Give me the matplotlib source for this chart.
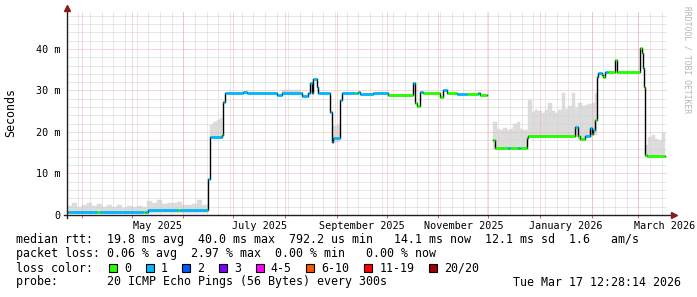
import numpy as np
import pandas as pd
import matplotlib
matplotlib.use('Agg')
import matplotlib.pyplot as plt
import matplotlib.dates as mdates
from matplotlib.patches import Rectangle

plt.rcParams['font.family'] = ['DejaVu Sans Mono']

nan = np.nan

# time window of the graph
t_start = '2025-03-23 05:00'
t_end = '2026-03-18 05:00'

# median rtt (ms) as step changes, loss = lost pings of 20, nan closes a run
med_dates = ['2025-03-23', '2025-03-24', '2025-04-10', '2025-04-12', '2025-05-08', '2025-05-09',
             '2025-05-11', '2025-05-29', '2025-05-30', '2025-06-15', '2025-06-16', '2025-06-17',
             '2025-06-24', '2025-06-25', '2025-06-26', '2025-07-07', '2025-07-09', '2025-07-27',
             '2025-07-30', '2025-08-11', '2025-08-15', '2025-08-16', '2025-08-17', '2025-08-18',
             '2025-08-20', '2025-08-21', '2025-08-28', '2025-08-29', '2025-08-30', '2025-09-03',
             '2025-09-04', '2025-09-12', '2025-09-13', '2025-09-14', '2025-09-15', '2025-09-23',
             '2025-09-29', '2025-10-02', '2025-10-17', '2025-10-18', '2025-10-19', '2025-10-21',
             '2025-10-23', '2025-11-02', '2025-11-04', '2025-11-06', '2025-11-12', '2025-11-18',
             '2025-11-25', '2025-11-26', '2025-11-30',
             '2025-12-04', '2025-12-05', '2025-12-13', '2025-12-14', '2025-12-19', '2025-12-20',
             '2025-12-24', '2025-12-25', '2026-01-22', '2026-01-24', '2026-01-25', '2026-01-28',
             '2026-01-31', '2026-02-01', '2026-02-02', '2026-02-03', '2026-02-04', '2026-02-05',
             '2026-02-07', '2026-02-08', '2026-02-09', '2026-02-11', '2026-02-15', '2026-02-16',
             '2026-03-02', '2026-03-03', '2026-03-04', '2026-03-04 16:00', '2026-03-05', '2026-03-06',
             '2026-03-17']
med_ms = [0.8, 0.8, 0.8, 0.8, 0.8, 0.8,
          1.1, 1.1, 1.1, 1.1, 8.7, 18.8,
          19.3, 27.3, 29.3, 29.6, 29.3, 29.0,
          29.3, 28.7, 29.3, 31.9, 29.5, 32.7,
          30.9, 29.3, 24.9, 17.7, 18.5, 27.7,
          29.3, 29.3, 29.3, 29.6, 29.2, 29.5,
          29.3, 29.0, 31.7, 26.9, 26.3, 29.6,
          29.3, 28.4, 30.2, 29.3, 29.2, 29.2,
          29.3, 29.0, nan,
          18.1, 16.1, 16.1, 16.1, 16.1, 16.1,
          18.5, 19.0, 21.3, 19.0, 18.2, 19.0,
          20.9, 19.5, 20.5, 23.0, 33.3, 34.1,
          33.7, 33.3, 34.5, 34.5, 37.3, 34.5,
          40.2, 39.0, 35.3, 30.9, 14.5, 14.1,
          nan]
med_loss = [0, 1, 0, 1, 0, 1,
            1, 0, 1, 0, 1, 1,
            0, 1, 1, 1, 1, 1,
            1, 1, 1, 1, 1, 1,
            1, 1, 1, 1, 1, 1,
            1, 0, 1, 1, 1, 1,
            1, 0, 1, 0, 0, 1,
            0, 0, 1, 0, 1, 0,
            1, 0, 0,
            0, 0, 1, 0, 1, 0,
            0, 0, 1, 0, 0, 1,
            1, 0, 1, 0, 1, 1,
            0, 0, 1, 0, 0, 0,
            0, 0, 1, 0, 0, 0,
            0]

# smoke: spread of the pings (ms), nan closes a block
smoke_dates = ['2025-03-23', '2025-03-26', '2025-03-29', '2025-04-01', '2025-04-04', '2025-04-07',
               '2025-04-10', '2025-04-13', '2025-04-16', '2025-04-19', '2025-04-22', '2025-04-25',
               '2025-04-28', '2025-05-01', '2025-05-04', '2025-05-07', '2025-05-10', '2025-05-13',
               '2025-05-16', '2025-05-19', '2025-05-22', '2025-05-25', '2025-05-28', '2025-05-31',
               '2025-06-03', '2025-06-06', '2025-06-09', '2025-06-12', '2025-06-15', '2025-06-16',
               '2025-06-17', '2025-06-19', '2025-06-21', '2025-06-23', '2025-06-24',
               '2025-07-30', '2025-08-10',
               '2025-08-29', '2025-09-01', '2025-09-03',
               '2025-12-04', '2025-12-06', '2025-12-08', '2025-12-10', '2025-12-12', '2025-12-14',
               '2025-12-16', '2025-12-18', '2025-12-20', '2025-12-22', '2025-12-25', '2025-12-27',
               '2025-12-29', '2025-12-31', '2026-01-02', '2026-01-04', '2026-01-06', '2026-01-08',
               '2026-01-10', '2026-01-12', '2026-01-14', '2026-01-16', '2026-01-18', '2026-01-20',
               '2026-01-22', '2026-01-24', '2026-01-26', '2026-01-28', '2026-01-30', '2026-02-01',
               '2026-02-03', '2026-02-04',
               '2026-03-05', '2026-03-07', '2026-03-09', '2026-03-11', '2026-03-13', '2026-03-15',
               '2026-03-17']
smoke_lo = [0.6] * 29 + [nan] + [18.6] * 4 + [nan] + [29.0, nan] + [17.6, 17.6, nan] + \
           [16.0] * 10 + [18.8] * 15 + [18.0, 18.0, 18.8, 18.8, 19.2, 19.2, nan] + \
           [14.0] * 6 + [nan]
smoke_hi = [2.2, 2.8, 2.0, 2.4, 2.9, 2.2,
            2.7, 2.0, 2.3, 1.9, 2.4, 1.8,
            2.1, 2.0, 2.2, 1.9, 3.3, 2.8,
            3.7, 2.7, 3.0, 2.9, 3.2, 2.5,
            2.4, 2.6, 3.6, 2.5, 2.6, nan,
            21.8, 22.3, 23.0, 23.4, nan,
            30.1, nan,
            21.5, 21.9, nan,
            22.5, 20.6, 20.4, 21.0, 20.5, 20.8,
            22.0, 22.5, 20.6, 20.4, 27.7, 24.8,
            25.3, 25.0, 24.6, 25.4, 27.0, 25.0,
            24.5, 25.2, 29.3, 25.5, 26.2, 29.5,
            25.8, 27.0, 26.2, 26.5, 26.8, 27.0,
            29.5, nan,
            16.9, 18.9, 19.2, 18.2, 18.0, 19.8,
            nan]

loss_labels = ['0', '1', '2', '3', '4-5', '6-10', '11-19', '20/20']
loss_colors = ['#26ff00', '#00b8ff', '#0059ff', '#7e00ff', '#ff00ff', '#ff5500', '#ff0000', '#a10000']
loss_upper = [0, 1, 2, 3, 5, 10, 19, 20]

xlabel_months = ['2025-05-01', '2025-07-01', '2025-09-01', '2025-11-01', '2026-01-01', '2026-03-01']
xlabel_text = ['May 2025', 'July 2025', 'September 2025', 'November 2025', 'January 2026', 'March 2026']
y_ticks = [0, 10, 20, 30, 40]
y_labels = ['0', '10 m', '20 m', '30 m', '40 m']

rtt_line = 'median rtt:  19.8 ms avg  40.0 ms max  792.2 us min   14.1 ms now  12.1 ms sd  1.6   am/s'
loss_line = 'packet loss: 0.06 % avg  2.97 % max  0.00 % min   0.00 % now'
probe_line = 'probe:       20 ICMP Echo Pings (56 Bytes) every 300s'
stamp = 'Tue Mar 17 12:28:14 2026'

W, H = 697, 297
minor_c = '#d2d2d2'
major_c = '#edb0b0'


def loss_color(n):
    for up, c in zip(loss_upper, loss_colors):
        if n <= up:
            return c
    return loss_colors[-1]


fig = plt.figure(figsize=(W / 100, H / 100), dpi=100)
fig.patch.set_facecolor('white')
ax = fig.add_axes([67 / W, (H - 215) / H, 600 / W, 203 / H])
x0 = mdates.date2num(pd.Timestamp(t_start))
x1 = mdates.date2num(pd.Timestamp(t_end))
ax.set_xlim(x0, x1)
ax.set_ylim(0, 48.9)
for s in ax.spines.values():
    s.set_visible(False)

# smoke
sx = mdates.date2num(pd.to_datetime(smoke_dates, format='mixed'))
for i in range(len(sx) - 1):
    if np.isnan(smoke_hi[i]):
        continue
    ax.bar(sx[i], smoke_hi[i] - smoke_lo[i], bottom=smoke_lo[i], width=sx[i + 1] - sx[i],
           align='edge', color='#dcdcdc', edgecolor='#dcdcdc', linewidth=0.3, zorder=1)

# grid, dotted like rrdtool
weeks = pd.date_range(t_start, t_end, freq='W-SUN', normalize=True)
months = pd.date_range('2025-04-01', t_end, freq='MS')
gkw = dict(lw=0.72, ls=(0, (1, 1)), zorder=2)
for d in weeks:
    ax.axvline(mdates.date2num(d), color=minor_c, **gkw)
for v in range(2, 49, 2):
    if v % 10:
        ax.axhline(v, color=minor_c, **gkw)
for d in months:
    ax.axvline(mdates.date2num(d), color=major_c, **gkw)
for v in y_ticks[1:]:
    ax.axhline(v, color=major_c, **gkw)

# median line with loss colours
mx = mdates.date2num(pd.to_datetime(med_dates, format='mixed'))
ax.step(mx, med_ms, where='post', color='#000000', lw=1.0, zorder=3)
ys, xa, xb, cs = [], [], [], []
for i in range(len(mx) - 1):
    if np.isnan(med_ms[i]):
        continue
    ys.append(med_ms[i]); xa.append(mx[i]); xb.append(mx[i + 1]); cs.append(loss_color(med_loss[i]))
ax.hlines(ys, xa, xb, colors=cs, lw=2.0, zorder=4)

# axes with arrows
ax.plot([-0.005, 1.01], [0, 0], transform=ax.transAxes, color='#202020', lw=1, clip_on=False, zorder=5)
ax.plot([0, 0], [-0.015, 1.02], transform=ax.transAxes, color='#202020', lw=1, clip_on=False, zorder=5)
ax.plot([1.011], [0], marker='>', ms=4, color='#8b1a1a', transform=ax.transAxes, clip_on=False, zorder=6)
ax.plot([0], [1.022], marker='^', ms=4, color='#8b1a1a', transform=ax.transAxes, clip_on=False, zorder=6)

# ticks
ax.set_yticks(y_ticks)
ax.set_yticklabels(y_labels)
ax.tick_params(axis='y', length=0, pad=5, labelsize=7.3)
ax.set_xticks(mdates.date2num(months))
ax.set_xticklabels([])
ax.tick_params(axis='x', which='major', length=2.5, width=0.7, color='#d06060')
mids = []
for m in xlabel_months:
    a = pd.Timestamp(m)
    b = a + pd.offsets.MonthBegin(1)
    mids.append(mdates.date2num(a + (b - a) / 2))
ax.set_xticks(mids, minor=True)
ax.set_xticklabels(xlabel_text, minor=True)
ax.tick_params(axis='x', which='minor', length=0, pad=4.5, labelsize=7.3)

fig.text(11 / W, 1 - 113 / H, 'Seconds', rotation=90, ha='center', va='center', fontsize=8.4)
fig.text(687 / W, 1 - 60 / H, 'RRDTOOL / TOBI OETIKER', rotation=270, ha='center', va='center',
         fontsize=5.8, color='#b4b4b4')

# legend block
fs = 8.4
fig.text(16 / W, 1 - 240 / H, rtt_line, va='center', fontsize=fs)
fig.text(16 / W, 1 - 254 / H, loss_line, va='center', fontsize=fs)
fig.text(16 / W, 1 - 268 / H, 'loss color:', va='center', fontsize=fs)
bx = 109
for lab, col in zip(loss_labels, loss_colors):
    fig.patches.append(Rectangle((bx / W, 1 - 272 / H), 8 / W, 8 / H, transform=fig.transFigure,
                                 facecolor=col, edgecolor='black', lw=0.8))
    fig.text((bx + 15) / W, 1 - 268 / H, lab, va='center', fontsize=fs)
    bx += 15 + len(lab) * 7 + 14.7
fig.text(16 / W, 1 - 282 / H, probe_line, va='center', fontsize=fs)
fig.text(681 / W, 1 - 282 / H, stamp, va='center', ha='right', fontsize=fs)

plt.savefig('out.png', dpi=100)
